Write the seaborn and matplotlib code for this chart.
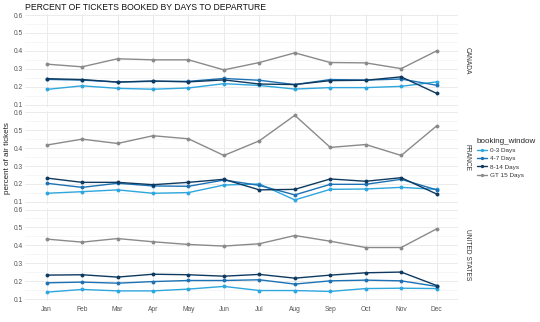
import matplotlib
matplotlib.use("Agg")
import matplotlib.pyplot as plt
from matplotlib.lines import Line2D
from matplotlib.ticker import MultipleLocator
import seaborn as sns
import pandas as pd

months = ["Jan", "Feb", "Mar", "Apr", "May", "Jun", "Jul", "Aug", "Sep", "Oct", "Nov", "Dec"]
countries = ["CANADA", "FRANCE", "UNITED STATES"]
windows = ["0-3 Days", "4-7 Days", "8-14 Days", "GT 15 Days"]

canada_0_3 = [0.185, 0.205, 0.191, 0.186, 0.193, 0.217, 0.207, 0.187, 0.195, 0.195, 0.202, 0.227]
canada_4_7 = [0.241, 0.237, 0.226, 0.230, 0.230, 0.246, 0.236, 0.212, 0.240, 0.237, 0.243, 0.208]
canada_8_14 = [0.245, 0.240, 0.226, 0.232, 0.227, 0.238, 0.215, 0.212, 0.234, 0.236, 0.255, 0.163]
canada_gt15 = [0.326, 0.311, 0.356, 0.350, 0.350, 0.294, 0.335, 0.389, 0.335, 0.333, 0.301, 0.400]

france_0_3 = [0.148, 0.157, 0.167, 0.148, 0.152, 0.194, 0.200, 0.111, 0.170, 0.172, 0.181, 0.170]
france_4_7 = [0.204, 0.181, 0.204, 0.189, 0.187, 0.222, 0.192, 0.139, 0.198, 0.198, 0.226, 0.167]
france_8_14 = [0.233, 0.209, 0.209, 0.196, 0.209, 0.226, 0.167, 0.170, 0.228, 0.215, 0.235, 0.144]
france_gt15 = [0.417, 0.450, 0.426, 0.469, 0.452, 0.359, 0.441, 0.583, 0.404, 0.420, 0.359, 0.524]

us_0_3 = [0.139, 0.154, 0.146, 0.146, 0.156, 0.171, 0.148, 0.148, 0.143, 0.159, 0.161, 0.159]
us_4_7 = [0.191, 0.195, 0.189, 0.198, 0.204, 0.204, 0.208, 0.184, 0.202, 0.206, 0.202, 0.171]
us_8_14 = [0.234, 0.236, 0.223, 0.239, 0.236, 0.228, 0.238, 0.217, 0.234, 0.247, 0.251, 0.176]
us_gt15 = [0.435, 0.418, 0.438, 0.420, 0.405, 0.396, 0.409, 0.455, 0.423, 0.388, 0.388, 0.492]

series = {
    "CANADA": [canada_0_3, canada_4_7, canada_8_14, canada_gt15],
    "FRANCE": [france_0_3, france_4_7, france_8_14, france_gt15],
    "UNITED STATES": [us_0_3, us_4_7, us_8_14, us_gt15],
}

rows = []
for country in countries:
    for win, vals in zip(windows, series[country]):
        for i, (m, v) in enumerate(zip(months, vals)):
            rows.append({"country": country, "month": m, "pos": i,
                         "booking_window": win, "value": v})
df = pd.DataFrame(rows)

palette = {"0-3 Days": "#2ea6de", "4-7 Days": "#1c72b5",
           "8-14 Days": "#0f3a60", "GT 15 Days": "#8a8a8a"}

sns.set_theme(style="whitegrid")
plt.rcParams["font.family"] = ["Liberation Sans", "DejaVu Sans"]

fig = plt.figure(figsize=(5.4, 3.22), dpi=100)
gs = fig.add_gridspec(3, 1, left=0.047, right=0.848, top=0.957, bottom=0.064, hspace=0.045)

ymin, ymax = 0.0874, 0.6066
tick_col = "#555555"
grid_col = "#ebebeb"

axes = []
for r, country in enumerate(countries):
    ax = fig.add_subplot(gs[r, 0])
    axes.append(ax)
    sub = df[df["country"] == country]
    sns.lineplot(data=sub, x="pos", y="value", hue="booking_window",
                 hue_order=windows, palette=palette, marker="o",
                 markersize=2.8, markeredgewidth=0, linewidth=1.0,
                 legend=False, ax=ax)
    ax.set_facecolor("white")
    ax.set_xlim(-0.6, 11.6)
    ax.set_ylim(ymin, ymax)
    ax.yaxis.set_major_locator(MultipleLocator(0.1))
    ax.yaxis.set_minor_locator(MultipleLocator(0.05))
    ax.set_xticks(range(len(months)))
    ax.grid(which="major", color=grid_col, linewidth=0.7)
    ax.grid(which="minor", axis="y", color="#f3f3f3", linewidth=0.5)
    ax.tick_params(axis="both", which="both", length=0, pad=2,
                   labelsize=4.8, labelcolor=tick_col)
    for s in ax.spines.values():
        s.set_visible(False)
    ax.set_xlabel("")
    ax.set_ylabel("")
    if r < 2:
        ax.set_xticklabels([])
    else:
        ax.set_xticklabels(months)
        ax.tick_params(axis="x", pad=3.5)
    ax.text(1.013, 0.5, country, transform=ax.transAxes, rotation=-90,
            ha="left", va="center", fontsize=4.8, color="#333333")

fig.text(0.013, 0.51, "percent of air tickets", rotation=90,
         ha="center", va="center", fontsize=5.8, color="#222222")
fig.text(0.046, 0.976, "PERCENT OF TICKETS BOOKED BY DAYS TO DEPARTURE",
         ha="left", va="center", fontsize=6.2, color="#111111")

handles = [Line2D([0], [0], color=palette[w], marker="o", markersize=2.4,
                  markeredgewidth=0, linewidth=1.0) for w in windows]
leg = fig.legend(handles, windows, title="booking_window",
                 loc="center left", bbox_to_anchor=(0.872, 0.51),
                 frameon=False, fontsize=4.6, title_fontsize=5.8,
                 handlelength=1.6, handletextpad=0.5, labelspacing=0.45)
leg._legend_box.align = "left"
for t in leg.get_texts():
    t.set_color("#333333")

fig.savefig("out.png", dpi=100, facecolor="white")
